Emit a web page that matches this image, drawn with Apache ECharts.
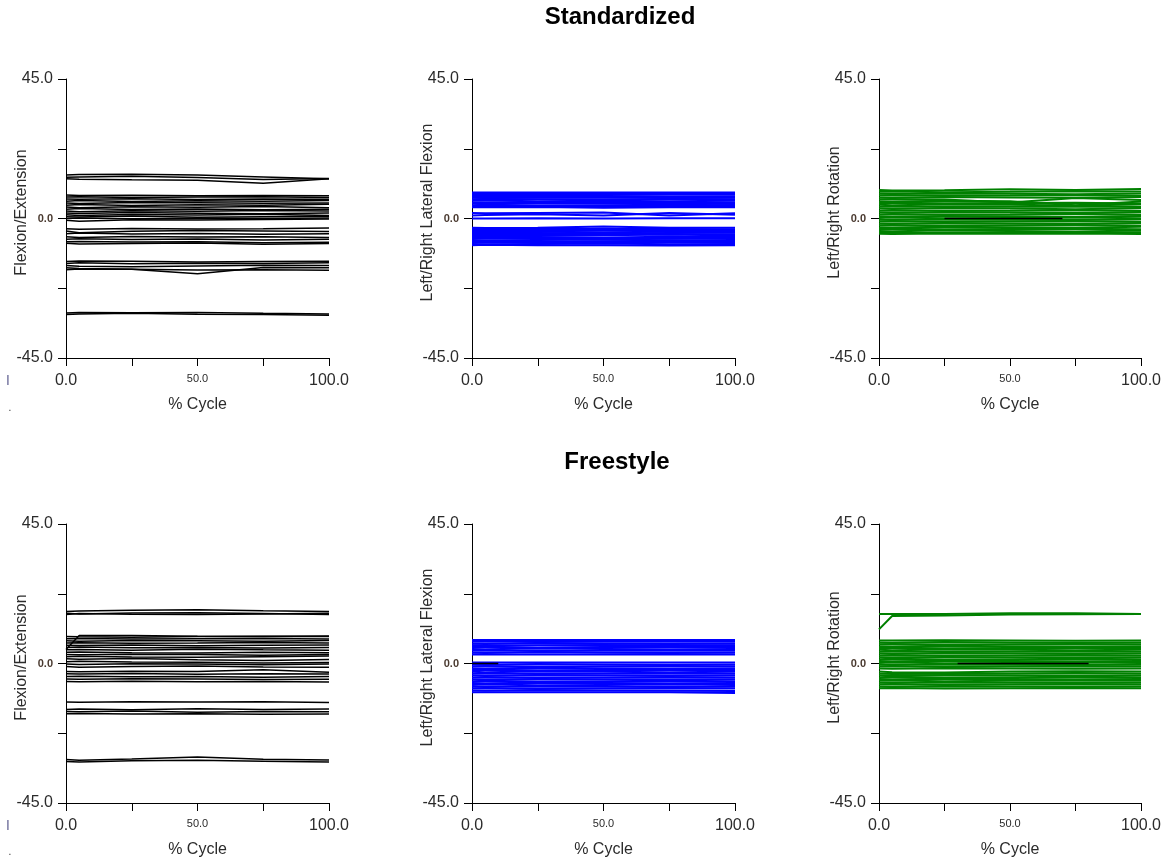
<!DOCTYPE html>
<html>
<head>
<meta charset="utf-8">
<script src="https://cdn.jsdelivr.net/npm/echarts@6/dist/echarts.min.js"></script>
<style>
html,body{margin:0;padding:0;background:#fff;}
#c{width:1171px;height:859px;}
</style>
</head>
<body>
<div id="c"></div>
<script>
// ---------------- DATA ----------------
const sectionTitles = ['Standardized', 'Freestyle'];
const yAxisNames = ['Flexion/Extension', 'Left/Right Lateral Flexion', 'Left/Right Rotation'];
const xAxisName = '% Cycle';
const xTickLabels = { 0: '0.0', 50: '50.0', 100: '100.0' };
const yTickLabels = { 45: '45.0', 0: '0.0', '-45': '-45.0' };
// % cycle sample positions shared by all traces
const cycleX = [0, 5, 25, 50, 75, 100];

// Standardized – Flexion/Extension (deg)
const stdFlex = [
  [14.0,14.2,14.3,14.0,13.4,12.8],
  [13.3,13.4,13.6,13.2,12.6,12.9],
  [12.8,12.7,12.5,12.3,11.4,12.8],
  [7.6,7.4,7.5,7.3,7.4,7.3],
  [6.9,7.0,6.8,6.9,7.0,6.8],
  [6.3,6.2,6.4,6.1,6.3,6.2],
  [5.6,5.8,5.5,5.7,5.6,5.8],
  [5.0,4.8,5.2,5.1,4.9,5.0],
  [4.3,4.5,4.2,4.4,4.3,4.6],
  [3.7,3.5,3.8,3.6,3.9,3.5],
  [3.0,3.2,2.9,3.1,2.8,3.0],
  [2.4,2.2,2.5,2.3,2.6,2.4],
  [1.8,1.6,1.9,1.7,1.5,1.8],
  [1.2,1.0,1.3,1.1,1.4,1.0],
  [0.6,0.5,0.8,0.4,0.6,0.7],
  [0.0,0.2,-0.1,0.1,0.0,0.2],
  [-0.6,-0.9,-0.4,-0.5,-0.3,-0.2],
  [-3.3,-3.5,-3.2,-3.4,-3.3,-3.1],
  [-4.0,-4.6,-4.1,-3.9,-4.0,-4.2],
  [-4.9,-4.7,-5.0,-4.8,-5.1,-4.9],
  [-5.9,-6.1,-5.8,-6.0,-5.9,-6.1],
  [-6.7,-6.5,-6.8,-6.6,-6.9,-6.7],
  [-7.5,-7.4,-7.6,-7.5,-7.8,-7.7],
  [-8.0,-8.2,-8.1,-7.9,-8.3,-8.1],
  [-13.9,-13.7,-13.8,-14.0,-13.9,-13.8],
  [-14.5,-14.3,-14.6,-14.4,-14.5,-14.3],
  [-15.2,-15.4,-15.6,-15.3,-15.1,-15.2],
  [-15.9,-16.1,-16.4,-17.8,-15.8,-15.9],
  [-16.5,-16.3,-16.4,-16.6,-16.5,-16.7],
  [-30.5,-30.3,-30.4,-30.3,-30.6,-30.8],
  [-31.0,-30.8,-30.6,-30.9,-31.0,-31.2]
];

// Standardized – Left/Right Lateral Flexion (deg)
const stdLat = [
  [8.4,8.4,8.4,8.4,8.4,8.4],
  [8.0,8.1,8.0,7.9,8.0,8.1],
  [7.6,7.7,7.6,7.6,7.7,7.7],
  [7.1,7.0,7.2,7.1,7.0,7.1],
  [6.7,6.6,6.7,6.8,6.6,6.7],
  [6.2,6.3,6.2,6.1,6.3,6.2],
  [5.7,5.8,5.6,5.7,5.6,5.7],
  [5.2,5.1,5.3,5.2,5.1,5.2],
  [4.8,4.7,4.9,4.8,4.8,4.7],
  [4.3,4.4,4.2,4.3,4.4,4.3],
  [3.8,3.9,3.8,3.7,3.8,3.9],
  [3.6,3.6,3.7,3.5,3.6,3.6],
  [1.8,1.7,1.8,1.9,1.0,1.7],
  [1.0,1.1,1.4,1.0,1.8,1.2],
  [0.0,0.0,0.1,0.0,0.1,0.1],
  [-3.0,-3.1,-3.0,-2.6,-3.0,-3.0],
  [-3.4,-3.5,-3.4,-3.3,-3.4,-3.5],
  [-3.8,-3.9,-4.0,-3.8,-3.9,-3.8],
  [-4.3,-4.2,-4.3,-4.4,-4.3,-4.2],
  [-4.7,-4.6,-4.7,-4.8,-4.7,-4.6],
  [-5.1,-5.2,-5.0,-5.1,-5.2,-5.1],
  [-5.5,-5.5,-5.5,-5.4,-5.2,-5.5],
  [-6.0,-5.9,-6.0,-6.1,-5.9,-6.0],
  [-6.4,-6.3,-6.4,-6.3,-6.5,-6.3],
  [-6.9,-7.0,-6.9,-6.8,-7.0,-6.9],
  [-7.3,-7.2,-7.4,-7.3,-7.2,-7.4],
  [-7.8,-7.7,-7.8,-7.8,-7.7,-7.8],
  [-8.2,-8.3,-8.2,-8.1,-8.3,-8.2],
  [-8.6,-8.5,-8.6,-8.6,-8.7,-8.6]
];

// Standardized – Left/Right Rotation (deg)
const stdRot = [
  [9.2,9.0,9.1,9.4,9.2,9.5],
  [8.6,8.7,8.5,8.6,8.8,8.7],
  [8.0,7.9,8.1,8.0,7.8,8.1],
  [7.4,7.5,7.3,7.4,7.6,7.3],
  [6.8,6.7,6.9,6.8,6.7,6.9],
  [6.2,6.3,6.1,5.2,6.6,6.0],
  [5.6,5.5,5.7,5.6,4.3,5.5],
  [5.0,5.1,4.9,5.0,5.1,4.8],
  [4.4,4.3,4.5,4.4,4.2,4.5],
  [3.8,3.9,3.7,3.8,3.9,3.7],
  [3.2,3.1,3.3,3.2,3.0,3.3],
  [2.5,2.6,2.4,2.5,2.7,2.4],
  [1.9,1.8,2.0,1.9,1.8,2.0],
  [1.3,1.4,1.2,1.3,1.5,1.2],
  [0.7,0.6,0.8,0.7,0.6,0.8],
  [0.2,0.3,0.1,0.2,0.3,0.1],
  [-0.4,-0.5,-0.3,-0.4,-0.5,-0.3],
  [-1.0,-0.9,-1.1,-1.0,-0.9,-1.1],
  [-1.6,-1.7,-1.5,-1.6,-1.8,-1.5],
  [-2.2,-2.1,-2.3,-2.2,-2.1,-2.3],
  [-2.8,-2.9,-2.7,-2.8,-3.0,-2.7],
  [-3.4,-3.3,-3.5,-3.4,-3.3,-3.5],
  [-4.0,-4.1,-3.9,-4.0,-4.2,-3.9],
  [-4.5,-4.6,-4.7,-4.5,-4.6,-4.4],
  [-4.9,-5.0,-4.8,-4.9,-4.8,-5.0]
];

// Freestyle – Flexion/Extension (deg)
const freeFlex = [
  [16.8,16.9,17.2,17.3,17.0,16.8],
  [16.2,16.0,16.3,16.4,16.1,15.8],
  [15.8,16.1,15.9,15.8,16.0,16.2],
  [4.5,9.0,9.0,8.8,8.7,8.9],
  [8.7,8.6,8.5,8.7,8.8,8.7],
  [8.0,8.1,7.9,8.0,8.1,7.9],
  [7.3,7.2,7.4,7.3,7.2,7.4],
  [6.6,6.7,6.5,6.6,6.8,6.6],
  [5.9,5.8,6.0,5.7,5.9,6.0],
  [5.2,5.3,5.1,5.2,5.0,5.2],
  [4.4,4.5,4.3,4.6,4.4,4.3],
  [3.6,3.7,3.5,3.4,3.6,3.5],
  [2.9,2.8,3.0,2.9,2.7,2.9],
  [2.2,2.3,2.1,2.0,2.2,2.4],
  [1.5,1.4,1.6,1.2,1.0,1.3],
  [0.6,0.7,0.5,0.4,0.2,0.3],
  [-0.2,-0.3,-0.1,-0.2,-0.4,-0.2],
  [-1.0,-1.2,-1.0,-0.8,-1.1,-1.2],
  [-2.6,-2.7,-2.5,-2.6,-2.0,-2.8],
  [-3.3,-3.4,-3.2,-3.5,-3.3,-3.4],
  [-4.2,-4.1,-4.3,-4.2,-4.4,-4.2],
  [-5.0,-5.1,-4.9,-5.0,-5.2,-5.1],
  [-5.8,-5.9,-5.7,-5.9,-5.8,-6.0],
  [-12.4,-12.5,-12.3,-12.4,-12.3,-12.6],
  [-14.8,-14.7,-14.9,-14.6,-14.8,-14.7],
  [-15.5,-15.6,-15.3,-15.7,-15.5,-15.6],
  [-16.2,-16.1,-16.3,-16.2,-16.4,-16.3],
  [-31.0,-31.2,-30.8,-30.2,-30.9,-31.1],
  [-31.6,-31.8,-31.4,-31.2,-31.5,-31.8]
];

// Freestyle – Left/Right Lateral Flexion (deg)
const freeLat = [
  [7.6,7.6,7.6,7.6,7.6,7.6],
  [7.0,7.1,6.9,7.0,7.1,7.0],
  [6.4,6.3,6.5,6.4,6.3,6.4],
  [5.9,5.8,5.9,6.0,5.8,5.9],
  [5.3,5.4,5.2,5.3,5.4,5.3],
  [4.7,4.6,4.8,4.7,4.6,4.7],
  [4.1,4.2,4.0,4.1,4.2,4.1],
  [3.5,3.4,3.6,3.5,3.4,3.5],
  [2.9,2.9,2.9,2.9,2.9,2.9],
  [0.3,0.3,0.3,0.3,0.3,0.3],
  [-0.3,-0.4,-0.2,-0.3,-0.4,-0.3],
  [-0.9,-0.8,-1.0,-0.9,-0.8,-0.9],
  [-1.5,-1.6,-1.4,-1.5,-1.6,-1.5],
  [-2.1,-2.0,-2.2,-2.1,-2.0,-2.1],
  [-2.7,-2.8,-2.6,-2.7,-2.8,-2.7],
  [-3.3,-3.2,-3.4,-3.3,-3.2,-3.3],
  [-3.9,-4.0,-3.8,-3.9,-4.0,-3.9],
  [-4.5,-4.4,-4.6,-4.5,-4.4,-4.5],
  [-5.1,-5.2,-5.0,-5.1,-5.2,-5.1],
  [-5.7,-5.6,-5.8,-5.7,-5.6,-5.7],
  [-6.3,-6.4,-6.2,-6.3,-6.4,-6.3],
  [-6.9,-6.8,-7.0,-6.9,-6.8,-6.9],
  [-7.5,-7.6,-7.4,-7.5,-7.6,-7.5],
  [-8.1,-8.0,-8.2,-8.1,-8.0,-8.1],
  [-8.7,-8.8,-8.6,-8.7,-8.8,-8.9],
  [-9.3,-9.3,-9.3,-9.3,-9.3,-9.5]
];

// Freestyle – Left/Right Rotation (deg)
const freeRot = [
  [16.0,16.0,16.0,16.2,16.2,16.0],
  [11.0,15.3,15.5,15.8,15.9,16.0],
  [7.4,7.4,7.5,7.4,7.3,7.4],
  [6.8,6.7,6.9,6.8,6.7,6.8],
  [6.2,6.3,6.1,6.2,6.3,6.2],
  [5.6,5.5,5.7,5.6,5.5,5.6],
  [5.0,5.1,4.9,5.0,5.1,5.0],
  [4.4,4.3,4.5,4.4,4.3,4.4],
  [3.8,3.9,3.7,3.8,3.9,3.8],
  [3.2,3.1,3.3,3.2,3.1,3.2],
  [2.6,2.7,2.5,2.6,2.7,2.6],
  [2.0,1.9,2.1,2.0,1.9,2.0],
  [1.4,1.5,1.3,1.4,1.5,1.4],
  [0.8,0.7,0.9,0.8,0.7,0.8],
  [0.2,0.3,0.1,0.2,0.3,0.2],
  [-0.4,-0.5,-0.3,-0.4,-0.5,-0.4],
  [-1.0,-0.9,-1.1,-1.0,-0.9,-1.0],
  [-1.6,-1.7,-1.5,-1.6,-1.7,-1.6],
  [-2.6,-2.8,-2.9,-2.6,-2.5,-2.6],
  [-3.2,-3.4,-3.3,-3.2,-3.1,-3.2],
  [-3.8,-3.9,-3.7,-3.8,-3.9,-3.8],
  [-4.4,-4.3,-4.5,-4.4,-4.3,-4.4],
  [-5.0,-5.1,-4.9,-5.0,-5.1,-5.0],
  [-5.6,-5.5,-5.7,-5.6,-5.5,-5.6],
  [-6.2,-6.3,-6.1,-6.2,-6.3,-6.2],
  [-6.8,-6.7,-6.9,-6.8,-6.7,-6.8],
  [-7.4,-7.5,-7.3,-7.4,-7.5,-7.4],
  [-8.0,-7.9,-8.1,-8.0,-7.9,-8.0]
];

// partial black zero reference traces (% cycle start, end), one per panel
const zeroRefRanges = [null, null, [25, 70], null, [0, 10], [30, 80]];

const panelData = [stdFlex, stdLat, stdRot, freeFlex, freeLat, freeRot];
const panelColors = ['#000000', '#0000ff', '#008000', '#000000', '#0000ff', '#008000'];
const panelWidths = [1.5, 2, 2, 1.5, 2, 2];

// ---------------- LAYOUT ----------------
const gridLefts = [66, 472, 879];
const gridWidths = [263, 263, 262];
const gridTops = [79, 524];
const gridHeight = 279;
const textColor = '#2b2b2b';
const fontFam = '"Liberation Sans", Arial, sans-serif';

const grids = [], xAxes = [], yAxes = [], series = [];
for (let p = 0; p < 6; p++) {
  const row = Math.floor(p / 3), col = p % 3;
  grids.push({ left: gridLefts[col], top: gridTops[row], width: gridWidths[col], height: gridHeight,
               containLabel: false, outerBoundsMode: 'none' });
  xAxes.push({
    gridIndex: p, type: 'value', min: 0, max: 100, interval: 25,
    name: xAxisName, nameLocation: 'middle', nameGap: 39, nameMoveOverlap: false,
    nameTextStyle: { color: textColor, fontSize: 16, fontFamily: fontFam },
    axisLine: { onZero: false, lineStyle: { color: '#000', width: 1 } },
    axisTick: { show: true, length: 8, lineStyle: { color: '#000' } },
    splitLine: { show: false },
    axisLabel: {
      margin: 15, color: textColor, fontFamily: fontFam,
      formatter: v => xTickLabels[v] ? (v === 50 ? '{s|' + xTickLabels[v] + '}' : '{b|' + xTickLabels[v] + '}') : '',
      rich: {
        b: { fontSize: 16, color: textColor, fontFamily: fontFam },
        s: { fontSize: 11, color: textColor, fontFamily: fontFam }
      }
    }
  });
  yAxes.push({
    gridIndex: p, type: 'value', min: -45, max: 45, interval: 22.5,
    name: yAxisNames[col], nameLocation: 'middle', nameGap: 36, nameMoveOverlap: false,
    nameTextStyle: { color: textColor, fontSize: 16, fontFamily: fontFam, padding: [0, 0, 0, 12] },
    axisLine: { show: true, onZero: false, lineStyle: { color: '#000', width: 1 } },
    axisTick: { show: true, length: 8, lineStyle: { color: '#000' } },
    splitLine: { show: false },
    axisLabel: {
      margin: 13, color: textColor, fontFamily: fontFam,
      formatter: v => {
        const t = yTickLabels[String(v)];
        if (!t) return '';
        return v === 0 ? '{s|' + t + '}' : '{b|' + t + '}';
      },
      rich: {
        b: { fontSize: 16, color: textColor, fontFamily: fontFam },
        s: { fontSize: 11, fontWeight: 'bold', color: '#4a3a30', fontFamily: fontFam }
      }
    }
  });
  panelData[p].forEach(vals => {
    series.push({
      type: 'line', xAxisIndex: p, yAxisIndex: p,
      data: cycleX.map((x, i) => [x, vals[i]]),
      symbol: 'none', silent: true, animation: false,
      lineStyle: { color: panelColors[p], width: panelWidths[p] }
    });
  });
  const zr = zeroRefRanges[p];
  if (zr) {
    series.push({
      type: 'line', xAxisIndex: p, yAxisIndex: p,
      data: [[zr[0], 0], [zr[1], 0]],
      symbol: 'none', silent: true, animation: false, z: 5,
      lineStyle: { color: '#000', width: 1.5 }
    });
  }
}

const graphics = [
  { type: 'text', x: 620, y: 17, style: { text: sectionTitles[0], font: 'bold 24px ' + fontFam, fill: '#000', align: 'center', verticalAlign: 'middle' } },
  { type: 'text', x: 617, y: 462, style: { text: sectionTitles[1], font: 'bold 24px ' + fontFam, fill: '#000', align: 'center', verticalAlign: 'middle' } },
  { type: 'text', x: 8, y: 380, style: { text: '|', font: '11px ' + fontFam, fill: '#1a1a60', align: 'center', verticalAlign: 'middle' } },
  { type: 'text', x: 10, y: 408, style: { text: '.', font: '10px ' + fontFam, fill: '#333', align: 'center', verticalAlign: 'middle' } },
  { type: 'text', x: 8, y: 825, style: { text: '|', font: '11px ' + fontFam, fill: '#1a1a60', align: 'center', verticalAlign: 'middle' } },
  { type: 'text', x: 10, y: 852, style: { text: '.', font: '10px ' + fontFam, fill: '#333', align: 'center', verticalAlign: 'middle' } }
];

const chart = echarts.init(document.getElementById('c'), null, { renderer: 'canvas' });
chart.setOption({
  backgroundColor: '#ffffff',
  animation: false,
  grid: grids,
  xAxis: xAxes,
  yAxis: yAxes,
  series: series,
  graphic: graphics
});
</script>
</body>
</html>
